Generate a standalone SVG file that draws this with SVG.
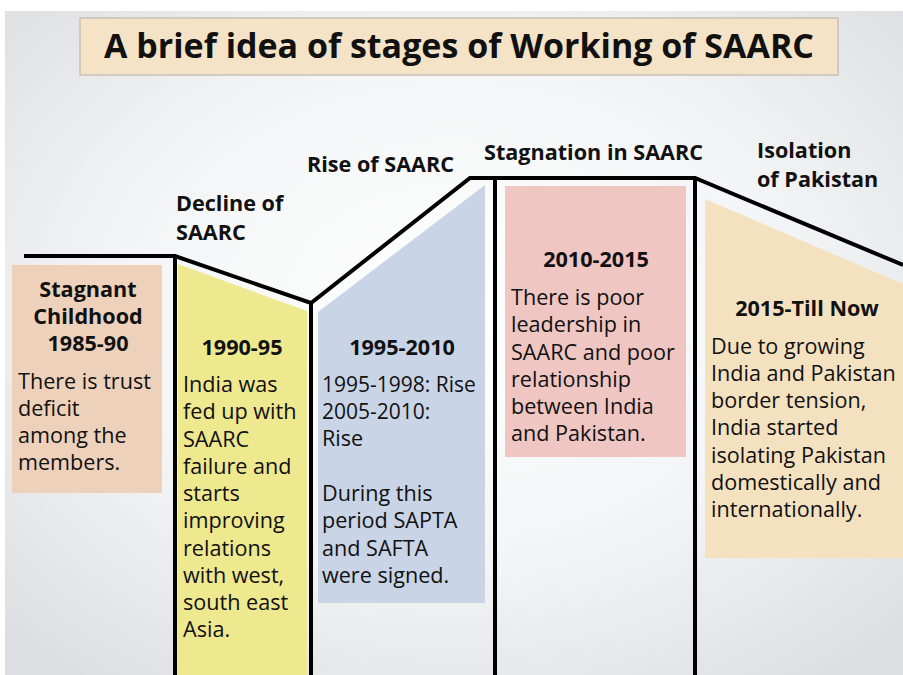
<svg xmlns="http://www.w3.org/2000/svg" width="903" height="675" viewBox="0 0 903 675">
<defs>
<radialGradient id="bg" cx="0.5" cy="0.45" r="0.7">
<stop offset="0" stop-color="#ffffff"/>
<stop offset="0.55" stop-color="#f3f4f5"/>
<stop offset="1" stop-color="#dcdee1"/>
</radialGradient>
<style>
text{font-family:"Open Sans","Liberation Sans",sans-serif;fill:#111;}
.h{font-weight:bold;font-size:21.6px;}
.b{font-size:21.6px;}
.c{text-anchor:middle;}
.frame{fill:none;stroke:#000;stroke-width:4;stroke-linejoin:miter;}
</style>
</defs>
<rect x="0" y="0" width="903" height="675" fill="#ffffff"/>
<rect x="5" y="11" width="898" height="664" fill="url(#bg)"/>

<g id="title">
<rect x="80" y="18" width="758" height="57" fill="#f4e3c6" stroke="#c9c1b3" stroke-width="1.5"/>
<text x="459" y="58" class="c" style="font-weight:bold;font-size:34px" textLength="710" lengthAdjust="spacingAndGlyphs">A brief idea of stages of Working of SAARC</text>
</g>

<g id="stage-labels">
<text class="h" x="176" y="211">Decline of</text>
<text class="h" x="176" y="240">SAARC</text>
<text class="h" x="307" y="172">Rise of SAARC</text>
<text class="h" x="484" y="160">Stagnation in SAARC</text>
<text class="h" x="757" y="158">Isolation</text>
<text class="h" x="757" y="187">of Pakistan</text>
</g>

<g id="stage1">
<rect x="12" y="265" width="150" height="228" fill="#eed1ba"/>
<text class="h c" x="88" y="297">Stagnant</text>
<text class="h c" x="88" y="324">Childhood</text>
<text class="h c" x="88" y="351">1985-90</text>
<text class="b" x="18" y="389">There is trust</text>
<text class="b" x="18" y="416">deficit</text>
<text class="b" x="18" y="443">among the</text>
<text class="b" x="18" y="470">members.</text>
</g>

<g id="stage2">
<polygon points="178,264 307,311 307,675 178,675" fill="#eee88f"/>
<text class="h c" x="242" y="355">1990-95</text>
<text class="b" x="183" y="392">India was</text>
<text class="b" x="183" y="419">fed up with</text>
<text class="b" x="183" y="447">SAARC</text>
<text class="b" x="183" y="474">failure and</text>
<text class="b" x="183" y="501">starts</text>
<text class="b" x="183" y="528">improving</text>
<text class="b" x="183" y="556">relations</text>
<text class="b" x="183" y="583">with west,</text>
<text class="b" x="183" y="610">south east</text>
<text class="b" x="183" y="637">Asia.</text>
</g>

<g id="stage3">
<polygon points="318,312 485,185 485,603 318,603" fill="#c9d4e6"/>
<text class="h c" x="402" y="355">1995-2010</text>
<text class="b" x="322" y="392" style="font-size:21px">1995-1998: Rise</text>
<text class="b" x="322" y="419" style="font-size:21px">2005-2010:</text>
<text class="b" x="322" y="446">Rise</text>
<text class="b" x="322" y="501">During this</text>
<text class="b" x="322" y="528">period SAPTA</text>
<text class="b" x="322" y="556">and SAFTA</text>
<text class="b" x="322" y="583">were signed.</text>
</g>

<g id="stage4">
<rect x="505" y="186" width="181" height="271" fill="#efc6c2"/>
<text class="h c" x="596" y="267">2010-2015</text>
<text class="b" x="511" y="305">There is poor</text>
<text class="b" x="511" y="332">leadership in</text>
<text class="b" x="511" y="360">SAARC and poor</text>
<text class="b" x="511" y="387">relationship</text>
<text class="b" x="511" y="414">between India</text>
<text class="b" x="511" y="441">and Pakistan.</text>
</g>

<g id="stage5">
<polygon points="705,199 903,284 903,558 705,558" fill="#f4e1bf"/>
<text class="h c" x="807" y="316">2015-Till Now</text>
<text class="b" x="711" y="354">Due to growing</text>
<text class="b" x="711" y="381">India and Pakistan</text>
<text class="b" x="711" y="408">border tension,</text>
<text class="b" x="711" y="435">India started</text>
<text class="b" x="711" y="463">isolating Pakistan</text>
<text class="b" x="711" y="490">domestically and</text>
<text class="b" x="711" y="517">internationally.</text>
</g>

<g id="connectors">
<path class="frame" d="M24,256 L175,256 L311,303 L470,178 L695,178 L903,265"/>
<path class="frame" d="M175,256 V675 M311,303 V675 M495,178 V675 M695,178 V675"/>
</g>
</svg>
